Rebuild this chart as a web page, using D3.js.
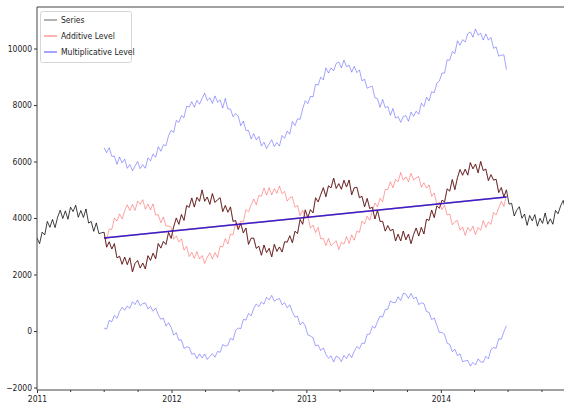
<!DOCTYPE html>
<html><head><meta charset="utf-8">
<script src="https://cdn.jsdelivr.net/npm/d3@7"></script>
<style>
body{margin:0;background:#fff;}
text{font-family:"Liberation Sans Narrow","DejaVu Sans Condensed","Liberation Sans",sans-serif;font-size:8.5px;fill:#222;}
</style></head>
<body><svg id="c" width="564" height="410"></svg>
<script>
// ---- data (weekly samples) ----
const seriesStart = "2011-01-01";
const componentStart = "2011-07-02";
const stepDays = 7;
const seriesValues = [
3300,3090,3500,3400,3880,3670,3950,3660,4030,4277,3983,4251,3956,4385,4227,4455,4027,4265,4019,4320,3820,3878,3527,3827,3444,3477,3496,2967,3157,2902,3093,2590,2646,2361,2619,2349,2593,2091,2395,2494,2228,2409,2194,2665,2499,2756,2554,3095,2935,3171,3063,3491,
3277,3695,4003,3776,4124,3916,4438,4380,4710,4387,4732,4590,4995,4593,4745,4483,4865,4552,4646,4717,4226,4444,4203,4393,3879,3912,3591,3801,3471,3646,3067,3283,3289,2924,3001,2682,3045,2773,2926,2625,3069,2819,2975,2795,3158,3146,3373,3124,3533,3450,3951,3778,
4290,4008,4296,4179,4717,4569,4831,5073,4753,5140,5065,5413,5048,5216,5018,5336,5098,5345,4819,5070,5089,4717,4766,4396,4692,4335,4384,3964,4274,3879,3880,3536,3732,3547,3604,3185,3428,3186,3539,3228,3432,3092,3418,3648,3361,3669,3436,3957,3916,4283,4014,4431,
4344,4632,4570,5033,4951,5363,5005,5427,5717,5514,5729,5517,5962,5740,5912,5600,6002,5679,5733,5324,5533,5341,5370,4900,5076,4749,4998,4490,4520,4070,4280,4400,3990,4140,3740,4090,3900,4120,3710,3990,3810,4180,3780,3970,3780,4270,4150,4430,4620,4240,4570,4450,4750];
const additiveFitRange = [26, 183];
const additiveLevel = [
3294,3251,3609,3594,4001,3892,4146,3969,4259,4469,4263,4483,4267,4598,4482,4649,4314,4491,4285,4498,4108,4115,3833,4037,3713,3713,
3677,3247,3369,3154,3264,2862,2998,2634,2782,2575,2808,2548,2673,2393,2609,2771,2547,2778,2602,3001,2980,3270,3081,3429,3411,3828,3657,3895,3853,4298,4215,4457,4671,4464,4795,4774,5059,4809,5074,4815,5039,4877,5131,4859,4944,4596,4717,4754,4383,4446,4083,4274,
4010,4070,3642,3747,3487,3665,3261,3277,3025,3278,3021,3111,3196,2886,3142,3074,3340,3101,3405,3214,3533,3493,3894,3792,4064,3921,4260,4528,4396,4701,4578,5010,5004,5287,5068,5367,5282,5612,5337,5458,5282,5580,5344,5422,5467,5089,5250,5057,5176,4769,4886,4487,
4564,4294,4456,4111,4141,3759,3865,3911,3569,3682,3385,3665,3530,3710,3416,3668,3564,3905,3669,3858,3777,4197,4108,4356,4588,4415,4794];
const additiveTrend = [3290, 4745];
const multiplicativeUpper = [
6490,6313,6489,6182,6189,5901,6163,5953,6084,5759,5894,5674,5837,5997,5749,5887,5761,6127,6025,6268,6149,6523,6364,6594,6557,6915,
7099,7027,7453,7386,7623,7554,7956,7927,8117,7922,8167,8025,8238,8416,8157,8254,8056,8322,8096,8185,7894,8232,7859,7859,7584,7696,7605,7267,7430,7105,7099,6798,6986,6765,6886,6552,6682,6456,6618,6774,6528,6670,6546,6919,6825,7076,6969,7415,7270,7513,7491,7866,
8154,8048,8309,8287,8738,8703,8987,8889,9319,9132,9314,9207,9473,9522,9312,9586,9354,9413,9160,9369,9147,9243,8857,8913,8593,8640,8663,8260,8227,7917,8197,7903,7948,7636,7877,7535,7588,7387,7596,7621,7425,7749,7600,7779,7672,8063,7946,8275,8143,8470,8433,8773,
8852,9131,9127,9600,9586,9894,9820,10274,10113,10314,10233,10520,10589,10399,10689,10470,10543,10297,10515,10295,10393,10006,10057,9728,9764,9775,9253];
const multiplicativeLower = [
106,65,375,331,551,447,686,836,735,884,802,1037,939,1098,894,966,995,782,868,701,816,580,416,457,173,294,
125,-144,-62,-326,-315,-618,-563,-579,-823,-795,-976,-812,-955,-814,-1007,-897,-803,-925,-725,-753,-480,-537,-505,-255,-322,25,104,82,411,386,624,537,791,955,867,1026,952,1193,1099,1260,1055,1124,1148,927,1003,825,927,675,495,518,216,318,
185,-142,-177,-238,-525,-495,-696,-597,-826,-962,-877,-1095,-890,-938,-1082,-860,-974,-803,-939,-712,-553,-624,-426,-439,-119,-114,163,103,335,533,492,757,771,1065,1005,1011,1212,1077,1336,1308,1153,1329,1140,1204,933,998,971,689,658,399,465,204,
-54,-49,-122,-431,-474,-730,-645,-869,-810,-1085,-1058,-1042,-1240,-1110,-1202,-987,-1096,-1107,-895,-986,-655,-582,-608,-275,-287,-25,191];
const multiplicativeTrend = [3290, 4745];
const trendDates = ["2011-07-02", "2014-06-28"];
const yTicks = [-2000, 0, 2000, 4000, 6000, 8000, 10000];
const legendLabels = ["Series", "Additive Level", "Multiplicative Level"];

// ---- drawing ----
const svg = d3.select("#c");
const parse = d3.utcParse("%Y-%m-%d");
const L = 37, R = 575, T = 7, B = 390;
const x = d3.scaleUtc().domain([parse("2011-01-01"), parse("2014-12-31")]).range([L, R]);
const y = d3.scaleLinear().domain([-2088, 11469]).range([B, T]);

const toPts = (vals, start) => vals.map((v, i) => ({d: d3.utcDay.offset(parse(start), i * stepDays), v}));
const line = d3.line().x(p => x(p.d)).y(p => y(p.v));

svg.append("clipPath").attr("id","clip").append("rect").attr("x",L).attr("y",T).attr("width",R-L).attr("height",B-T);
const g = svg.append("g").attr("clip-path","url(#clip)");

function drawLine(pts, color, opacity, width){
  g.append("path").datum(pts).attr("d", line).attr("fill","none")
   .attr("stroke", color).attr("stroke-opacity", opacity).attr("stroke-width", width)
   .attr("stroke-linejoin","round");
}
const seriesPts = toPts(seriesValues, seriesStart);
drawLine(seriesPts, "#000", 0.75, 1.0);
drawLine(seriesPts.slice(additiveFitRange[0], additiveFitRange[1]), "#ff0000", 0.35, 0.8);
drawLine(toPts(additiveLevel, componentStart), "#ff0000", 0.45, 0.8);
drawLine(trendDates.map((d,i)=>({d:parse(d), v:additiveTrend[i]})), "#ff0000", 0.5, 1.4);
drawLine(toPts(multiplicativeUpper, componentStart), "#0000ff", 0.45, 0.8);
drawLine(toPts(multiplicativeLower, componentStart), "#0000ff", 0.45, 0.8);
drawLine(trendDates.map((d,i)=>({d:parse(d), v:multiplicativeTrend[i]})), "#1010e0", 0.85, 1.4);

// axes
svg.append("g").attr("transform", `translate(0,${B})`)
  .call(d3.axisBottom(x).tickValues(d3.utcYear.range(parse("2011-01-01"), parse("2015-01-01"))).tickFormat(d3.utcFormat("%Y")).tickSize(3).tickPadding(3));
svg.append("g").attr("transform", `translate(0,${B})`)
  .call(d3.axisBottom(x).tickValues(d3.utcMonth.every(3).range(parse("2011-01-01"), parse("2015-01-01")).filter(d=>d.getUTCMonth()!==0)).tickFormat("").tickSize(2))
  .select(".domain").remove();
svg.append("g").attr("transform", `translate(${L},0)`)
  .call(d3.axisLeft(y).tickValues(yTicks).tickFormat(d3.format("d")).tickSize(3).tickPadding(2));
svg.selectAll(".tick line").attr("stroke","#333");
svg.selectAll(".domain").attr("stroke","none");
svg.selectAll(".tick text").attr("font-size",null).attr("font-family",null).attr("fill","#222");
// spines
const sp = svg.append("g").attr("stroke","#444").attr("stroke-width",1).attr("fill","none");
sp.append("line").attr("x1",L).attr("x2",L).attr("y1",T).attr("y2",B);
sp.append("line").attr("x1",L).attr("x2",R).attr("y1",B).attr("y2",B);
sp.append("line").attr("x1",L).attr("x2",R).attr("y1",T).attr("y2",T);
sp.append("line").attr("x1",R).attr("x2",R).attr("y1",T).attr("y2",B);

// legend
const lg = svg.append("g");
lg.append("rect").attr("x",40.5).attr("y",11.5).attr("width",91).attr("height",51).attr("rx",2)
  .attr("fill","#fff").attr("fill-opacity",0.85).attr("stroke","#d6d6d6");
const lcol = [["#000",0.5],["#ff0000",0.5],["#0000ff",0.6]];
legendLabels.forEach((t,i)=>{
  const yy = 20 + i*16;
  lg.append("line").attr("x1",44).attr("x2",57).attr("y1",yy).attr("y2",yy)
    .attr("stroke",lcol[i][0]).attr("stroke-opacity",lcol[i][1]).attr("stroke-width",1.2);
  lg.append("text").attr("x",61).attr("y",yy).attr("dy","0.35em").text(t);
});
</script></body></html>
